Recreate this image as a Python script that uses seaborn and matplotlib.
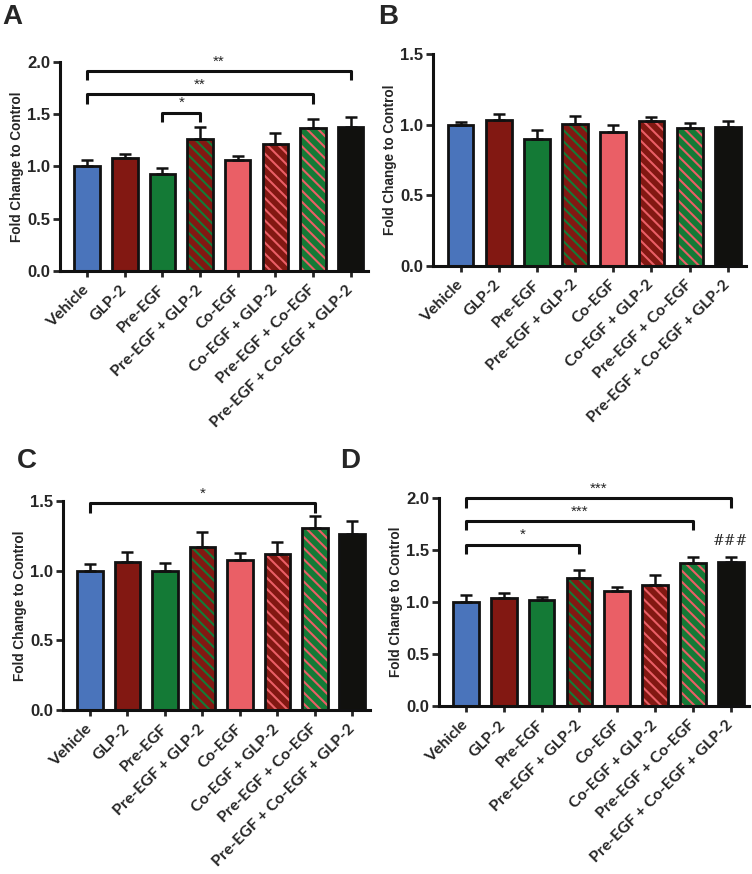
import numpy as np
import matplotlib
matplotlib.use("Agg")
import matplotlib.pyplot as plt
import seaborn as sns
from matplotlib.patches import Rectangle

groups = ["Vehicle", "GLP-2", "Pre-EGF", "Pre-EGF + GLP-2", "Co-EGF",
          "Co-EGF + GLP-2", "Pre-EGF + Co-EGF", "Pre-EGF + Co-EGF + GLP-2"]

# bar means and upper SEM
means_a = [1.00, 1.08, 0.925, 1.26, 1.06, 1.22, 1.365, 1.38]
sem_a = [0.065, 0.04, 0.06, 0.12, 0.045, 0.105, 0.09, 0.09]
means_b = [1.00, 1.03, 0.895, 1.005, 0.95, 1.025, 0.978, 0.982]
sem_b = [0.018, 0.045, 0.065, 0.055, 0.045, 0.03, 0.037, 0.045]
means_c = [1.00, 1.062, 0.998, 1.167, 1.077, 1.117, 1.304, 1.261]
sem_c = [0.048, 0.07, 0.055, 0.11, 0.047, 0.09, 0.088, 0.093]
means_d = [1.00, 1.043, 1.022, 1.236, 1.105, 1.169, 1.376, 1.382]
sem_d = [0.07, 0.043, 0.03, 0.073, 0.045, 0.092, 0.057, 0.051]

# significance brackets: (from, to, height, label)
sig_a = [(0, 7, 1.914, "**"), (0, 6, 1.69, "**"), (2, 3, 1.515, "*")]
sig_b = []
sig_c = [(0, 6, 1.483, "*")]
sig_d = [(0, 7, 1.997, "***"), (0, 6, 1.78, "***"), (0, 3, 1.551, "*")]

base_colors = ["#4a74bb", "#821812", "#147a36", "#821812", "#ea5f66",
               "#821812", "#147a36", "#11110e"]
stripe_colors = [None, None, None, "#147a36", None, "#ea5f66", "#ea5f66", None]

sns.set_style("ticks")
plt.rcParams["hatch.linewidth"] = 1.5
plt.rcParams["font.family"] = ["Liberation Sans", "DejaVu Sans"]
plt.rcParams["font.weight"] = "bold"

fig = plt.figure(figsize=(7.52, 8.74), dpi=100)
axes = {
    "A": fig.add_axes([0.0798, 0.690, 0.410, 0.239]),
    "B": fig.add_axes([0.5758, 0.696, 0.416, 0.242]),
    "C": fig.add_axes([0.0838, 0.1876, 0.408, 0.2394]),
    "D": fig.add_axes([0.5834, 0.192, 0.412, 0.238]),
}
panels = {
    "A": (means_a, sem_a, sig_a, 2.0),
    "B": (means_b, sem_b, sig_b, 1.5),
    "C": (means_c, sem_c, sig_c, 1.5),
    "D": (means_d, sem_d, sig_d, 2.0),
}

for key, ax in axes.items():
    means, sem, sig, ymax = panels[key]
    sns.barplot(x=groups, y=means, hue=groups, palette=base_colors, legend=False,
                width=0.68, linewidth=0, saturation=1, ax=ax)
    for i, p in enumerate(ax.patches):
        if stripe_colors[i]:
            p.set_hatch("\\\\\\")
            p.set_edgecolor(stripe_colors[i])
            p.set_linewidth(0)
        ax.add_patch(Rectangle(p.get_xy(), p.get_width(), p.get_height(),
                               fill=False, ec="#111111", lw=2.0, zorder=3))
    ax.errorbar(range(len(groups)), means, yerr=[np.zeros(len(sem)), sem],
                fmt="none", ecolor="#111111", elinewidth=1.8, capsize=4.6,
                capthick=1.8, zorder=2)
    for i, j, y, lab in sig:
        leg = 0.09 * ymax / 2.0
        ax.plot([i, i, j, j], [y - leg, y, y, y - leg], color="#111111",
                lw=2.2, clip_on=False, solid_capstyle="butt")
        ax.text((i + j) / 2, y + 0.025 * ymax / 2, lab, ha="center",
                va="bottom", fontsize=11, fontweight="normal", clip_on=False)
    ax.set_ylim(0, ymax)
    ticks = np.arange(0, ymax + 0.01, 0.5)
    ax.set_yticks(ticks)
    ax.set_yticklabels([f"{v:.1f}" for v in ticks], fontsize=12,
                       fontweight="bold")
    ax.set_xlim(-0.72, 7.47)
    ax.set_xticks(range(len(groups)))
    ax.set_xticklabels(groups, rotation=45, ha="right", va="center",
                       rotation_mode="anchor", fontsize=11.5,
                       family=["Lato", "DejaVu Sans"], fontweight="bold")
    ax.tick_params(axis="x", length=4, width=2, pad=8)
    ax.tick_params(axis="y", length=5, width=2, pad=2)
    ax.set_ylabel("Fold Change to Control", fontsize=9.8, fontweight="bold",
                  labelpad=2)
    ax.set_xlabel("")
    sns.despine(ax=ax)
    for s in ["left", "bottom"]:
        ax.spines[s].set_linewidth(2.2)
        ax.spines[s].set_color("#111111")

axes["D"].text(7, 1.52, "###", ha="center", va="bottom", fontsize=10,
               fontweight="normal", family="DejaVu Serif")

fig.text(0.003, 0.995, "A", fontsize=20, fontweight="bold", va="top")
fig.text(0.503, 0.995, "B", fontsize=20, fontweight="bold", va="top")
fig.text(0.022, 0.487, "C", fontsize=20, fontweight="bold", va="top")
fig.text(0.452, 0.487, "D", fontsize=20, fontweight="bold", va="top")

fig.savefig("out.png", dpi=100, facecolor="white")
